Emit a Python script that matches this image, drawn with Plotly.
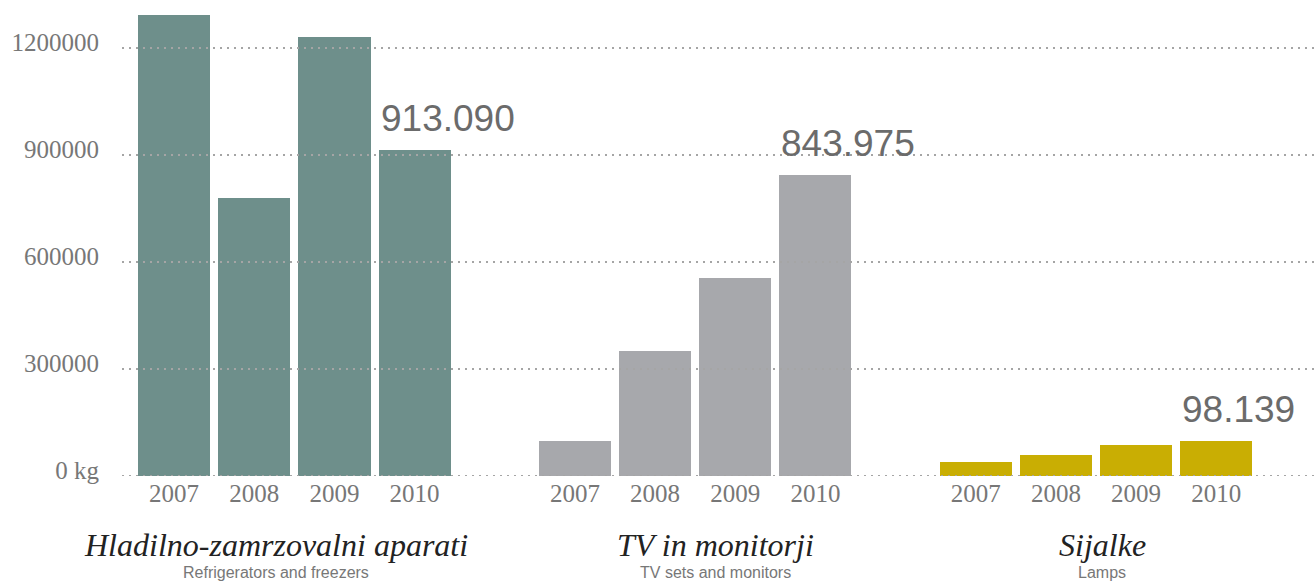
import plotly.graph_objects as go

# ---- data ----
years = ["2007", "2008", "2009", "2010"]
fridges = [1292000, 779000, 1231000, 913090]
tvs = [99000, 351000, 554000, 843975]
lamps = [39000, 59500, 87000, 98139]
group_titles = ["Hladilno-zamrzovalni aparati", "TV in monitorji", "Sijalke"]
group_subtitles = ["Refrigerators and freezers", "TV sets and monitors", "Lamps"]
value_labels = ["913.090", "843.975", "98.139"]
y_ticks = [0, 300000, 600000, 900000, 1200000]
y_ticktext = ["0 kg", "300000", "600000", "900000", "1200000"]

series = [fridges, tvs, lamps]
colors = ["#6e8f8b", "#a7a8ac", "#c9ae03"]
title_x = [1.27, 6.75, 11.58]

fig = go.Figure()
tickvals, ticktext = [], []
for g, vals in enumerate(series):
    xs = [g * 5 + i for i in range(len(years))]
    tickvals += xs
    ticktext += years
    fig.add_trace(go.Bar(x=xs, y=vals, width=0.9, marker=dict(color=colors[g], line=dict(width=0)),
                         showlegend=False, hoverinfo="y"))
    # value label of last bar
    fig.add_annotation(x=xs[-1] - 0.45, y=vals[-1], xref="x", yref="y", text=value_labels[g],
                       xanchor="left", yanchor="bottom", yshift=9, showarrow=False,
                       font=dict(family="Liberation Sans", size=37, color="#6b6b6b"))
    fig.add_annotation(x=title_x[g], y=0, xref="x", yref="paper", text="<i>" + group_titles[g] + "</i>",
                       xanchor="center", yanchor="middle", yshift=-69, showarrow=False,
                       font=dict(family="Liberation Serif", size=32, color="#222222"))
    fig.add_annotation(x=title_x[g], y=0, xref="x", yref="paper", text=group_subtitles[g],
                       xanchor="center", yanchor="middle", yshift=-96, showarrow=False,
                       font=dict(family="Liberation Sans", size=16, color="#777777"))

for v in y_ticks:
    fig.add_shape(type="line", xref="paper", yref="y", x0=0, x1=1, y0=v, y1=v, layer="above",
                  line=dict(color="#a5a5a5", width=2, dash="2px,5px"))

fig.update_layout(
    width=1314, height=581,
    margin=dict(l=122, r=0, t=10, b=105),
    plot_bgcolor="white", paper_bgcolor="white",
    bargap=0,
    xaxis=dict(range=[-0.65, 14.22], tickvals=tickvals, ticktext=ticktext, showgrid=False,
               zeroline=False, showline=False, ticks="",
               tickfont=dict(family="Liberation Serif", size=25, color="#777777")),
    yaxis=dict(range=[0, 1306500], tickvals=y_ticks, ticktext=y_ticktext, showgrid=False,
               zeroline=False, showline=False, ticks="", ticklabelstandoff=22, ticklabelshift=-6,
               tickfont=dict(family="Liberation Serif", size=25, color="#777777")),
)

fig.write_html("out.html", config={"displayModeBar": False},
               post_script="document.body.style.margin='0';document.body.style.overflow='hidden';")
